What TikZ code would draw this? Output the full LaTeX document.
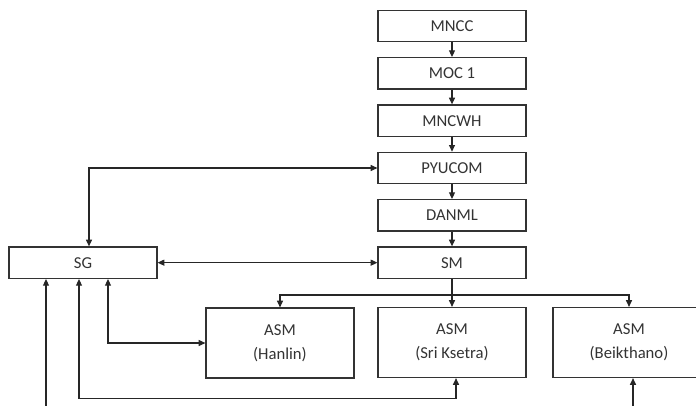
\documentclass[tikz,border=0pt]{standalone}
\usepackage{fontspec}
\setmainfont{Carlito}
\usetikzlibrary{positioning,arrows.meta}

\begin{document}
\begin{tikzpicture}[
    x=0.75pt, y=-0.75pt,
    box/.style={draw=black!80, line width=0.9pt, minimum width=111pt, minimum height=23.6pt, align=center, text=black!80, font=\fontsize{12.5}{13}\selectfont},
    asm/.style={box, minimum height=52.5pt},
    arr/.style={-{Triangle[length=5pt, width=4.5pt]}, line width=0.8pt, draw=black!85},
    twoarr/.style={{Triangle[length=5pt, width=4.5pt]}-{Triangle[length=5pt, width=4.5pt]}, line width=0.8pt, draw=black!85},
    node distance=11pt
]
\useasboundingbox (0,0) rectangle (696,405);

% main column
\node[box] (MNCC) at (452,26) {MNCC};
\node[box, below=of MNCC] (MOC) {MOC 1};
\node[box, below=of MOC] (MNCWH) {MNCWH};
\node[box, below=of MNCWH] (PYUCOM) {PYUCOM};
\node[box, below=of PYUCOM] (DANML) {DANML};
\node[box, below=of DANML] (SM) {SM};

\node[box] (SG) at (83,0 |- SM) {SG};

\node[asm] (Hanlin) at (280,343) {ASM\\[5pt](Hanlin)};
\node[asm] (Sri) at (452,342.5) {ASM\\[5pt](Sri Ksetra)};
\node[asm, minimum width=114pt] (Beik) at (629,342.5) {ASM\\[5pt](Beikthano)};

\draw[arr] (MNCC) -- (MOC);
\draw[arr] (MOC) -- (MNCWH);
\draw[arr] (MNCWH) -- (PYUCOM);
\draw[arr] (PYUCOM) -- (DANML);
\draw[arr] (DANML) -- (SM);

\draw[twoarr] ([xshift=4.5pt]SG.north) |- (PYUCOM.west);
\draw[twoarr] (SG) -- (SM);

% branches to the ASM boxes
\draw[arr] (SM.south) -- ++(0,16) -| (Hanlin.north);
\draw[arr] (SM.south) -- (Sri.north);
\draw[arr] (SM.south) -- ++(0,16) -| (Beik.north);

% links back to SG
\draw[twoarr] ([xshift=18.75pt]SG.south) |- (Hanlin.west);
\draw[twoarr] ([xshift=3pt]Sri.south) -- ++(0,20) -| ([xshift=-3pt]SG.south);
\draw[twoarr] ([xshift=3pt]Beik.south) -- ++(0,40) -| ([xshift=-27.75pt]SG.south);

\end{tikzpicture}
\end{document}
